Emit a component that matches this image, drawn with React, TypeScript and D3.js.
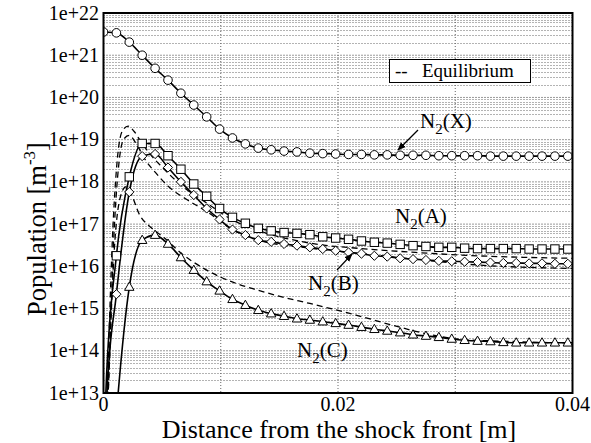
import * as d3 from 'd3';

// marker positions along the shock axis [m]; last entry is the right edge
const xGrid = [
  0, 0.0011, 0.0022, 0.0033, 0.0044, 0.0055, 0.0066, 0.0077, 0.0088, 0.0099,
  0.011, 0.0121, 0.0132, 0.0143, 0.0154, 0.0165, 0.0176, 0.0187, 0.0198, 0.0209,
  0.022, 0.0231, 0.0242, 0.0253, 0.0264, 0.0275, 0.0286, 0.0297, 0.0308, 0.0319,
  0.033, 0.0341, 0.0352, 0.0363, 0.0374, 0.0385, 0.0396, 0.04,
];

// log10 of population [m^-3]
const n2X = [
  21.55, 21.53, 21.31, 21.0, 20.69, 20.41, 20.1, 19.82, 19.54, 19.25,
  19.04, 18.9, 18.8, 18.76, 18.73, 18.71, 18.68, 18.67, 18.66, 18.65,
  18.65, 18.64, 18.64, 18.63, 18.63, 18.63, 18.62, 18.62, 18.62, 18.62,
  18.61, 18.61, 18.61, 18.61, 18.61, 18.61, 18.61, 18.61,
];
const n2A = [
  10, 16.25, 18.12, 18.91, 18.91, 18.62, 18.3, 17.95, 17.66, 17.37,
  17.16, 17.02, 16.9, 16.84, 16.8, 16.78, 16.75, 16.7, 16.67, 16.64,
  16.6, 16.57, 16.55, 16.52, 16.49, 16.47, 16.45, 16.45, 16.43, 16.42,
  16.42, 16.42, 16.42, 16.41, 16.41, 16.41, 16.41, 16.41,
];
const n2B = [
  10, 15.34, 17.76, 18.61, 18.66, 18.34, 18.0, 17.69, 17.37, 17.11,
  16.87, 16.74, 16.62, 16.58, 16.53, 16.49, 16.45, 16.41, 16.37, 16.33,
  16.3, 16.25, 16.23, 16.19, 16.17, 16.15, 16.13, 16.12, 16.11, 16.1,
  16.09, 16.08, 16.08, 16.07, 16.07, 16.06, 16.06, 16.06,
];
const n2C = [
  8, 12.5, 15.51, 16.62, 16.74, 16.53, 16.21, 15.91, 15.64, 15.42,
  15.22, 15.08, 14.96, 14.88, 14.82, 14.76, 14.73, 14.69, 14.65, 14.61,
  14.56, 14.51, 14.47, 14.43, 14.38, 14.35, 14.32, 14.28, 14.25, 14.23,
  14.22, 14.2, 14.19, 14.19, 14.19, 14.19, 14.19, 14.19,
];

// steep rise between the first markers (no marker)
const riseAX = [0.0002];
const riseA = [13.0];
const riseBX = [0.0003];
const riseB = [13.0];

// equilibrium curves (dashed)
const eqAX = [0, 0.0003, 0.0008, 0.0012, 0.0016, 0.0021, 0.0026, 0.0032, 0.004, 0.005, 0.0065, 0.0088, 0.011, 0.0132, 0.0176, 0.022, 0.0266, 0.031, 0.04];
const eqA = [11, 13.0, 16.9, 18.6, 19.2, 19.32, 19.2, 18.95, 18.65, 18.35, 17.95, 17.5, 17.1, 16.85, 16.55, 16.42, 16.33, 16.26, 16.19];
const eqBX = [0, 0.0004, 0.0009, 0.0013, 0.0017, 0.0022, 0.0028, 0.0035, 0.0045, 0.0055, 0.007, 0.0088, 0.011, 0.0132, 0.0176, 0.022, 0.0266, 0.031, 0.04];
const eqB = [11, 13.0, 16.8, 18.4, 19.0, 19.1, 18.9, 18.55, 18.2, 17.9, 17.6, 17.3, 16.87, 16.62, 16.43, 16.3, 16.17, 16.05, 15.95];
const eqCX = [0, 0.0004, 0.0009, 0.0014, 0.0019, 0.0022, 0.0031, 0.0041, 0.0052, 0.0065, 0.0088, 0.0108, 0.0131, 0.0153, 0.0176, 0.0216, 0.0242, 0.0281, 0.0309, 0.0338, 0.0396, 0.04];
const eqC = [10, 13.0, 16.3, 17.6, 17.88, 17.8, 17.21, 16.91, 16.67, 16.34, 15.91, 15.65, 15.44, 15.27, 15.12, 14.84, 14.64, 14.37, 14.26, 14.23, 14.19, 14.19];

const yTicks = [13, 14, 15, 16, 17, 18, 19, 20, 21, 22];
const xTicks = [0, 0.02, 0.04];
const xGridLines = [0.01, 0.02, 0.03];

const W = 591;
const H = 443;
const left = 103.5;
const right = 572.5;
const top = 13;
const bottom = 393;
const font = "'Liberation Serif', 'Times New Roman', serif";

const x = d3.scaleLinear().domain([0, 0.04]).range([left, right]);
const y = d3.scaleLog().domain([1e13, 1e22]).range([bottom, top]);

type Pt = [number, number];

const merge = (xs: number[], vs: number[], ex: number[] = [], ev: number[] = []): Pt[] =>
  [...xs.map((d, i) => [d, vs[i]] as Pt), ...ex.map((d, i) => [d, ev[i]] as Pt)].sort(
    (a, b) => a[0] - b[0]
  );

const line = d3
  .line<Pt>()
  .x(d => x(d[0]))
  .y(d => y(Math.pow(10, d[1])))
  .curve(d3.curveMonotoneX);

const markerPts = (vs: number[]) =>
  xGrid
    .slice(0, 37)
    .map((d, i) => ({ px: x(d), py: y(Math.pow(10, vs[i])), v: vs[i] }))
    .filter(p => p.v >= 13);

const Marker = ({ kind, px, py }: { kind: string; px: number; py: number }) => {
  const st = { fill: '#fff', stroke: '#000', strokeWidth: 1 };
  if (kind === 'circle') return <circle cx={px} cy={py} r={4.3} {...st} />;
  if (kind === 'square') return <rect x={px - 4.2} y={py - 4.2} width={8.4} height={8.4} {...st} />;
  if (kind === 'diamond')
    return <path d={`M${px},${py - 4.6}L${px + 4.6},${py}L${px},${py + 4.6}L${px - 4.6},${py}Z`} {...st} />;
  return <path d={`M${px},${py - 5}L${px + 4.7},${py + 3.3}L${px - 4.7},${py + 3.3}Z`} {...st} />;
};

const solid = [
  { name: 'X', vs: n2X, pts: merge(xGrid, n2X), kind: 'circle' },
  { name: 'A', vs: n2A, pts: merge(xGrid, n2A, riseAX, riseA), kind: 'square' },
  { name: 'B', vs: n2B, pts: merge(xGrid, n2B, riseBX, riseB), kind: 'diamond' },
  { name: 'C', vs: n2C, pts: merge(xGrid, n2C), kind: 'triangle' },
];
const dashed = [merge(eqAX, eqA), merge(eqBX, eqB), merge(eqCX, eqC)];

const minor: number[] = [];
yTicks.slice(0, -1).forEach(e => {
  for (let k = 2; k <= 9; k++) minor.push(k * Math.pow(10, e));
});

const Species = ({ px, py, s }: { px: number; py: number; s: string }) => (
  <text x={px} y={py} fontSize={21} fontFamily={font}>
    N<tspan fontSize={15} dy={6}>2</tspan>
    <tspan dy={-6}>({s})</tspan>
  </text>
);

const App = () => (
  <svg width={W} height={H} style={{ position: 'absolute', left: 0, top: 0, background: '#fff' }}>
    <defs>
      <clipPath id="plot">
        <rect x={left} y={top} width={right - left} height={bottom - top} />
      </clipPath>
      <marker id="arr" viewBox="0 0 10 10" refX={9} refY={5} markerWidth={7} markerHeight={7} orient="auto">
        <path d="M0,1L10,5L0,9Z" fill="#000" />
      </marker>
    </defs>

    {/* grid */}
    <g stroke="#666" strokeWidth={1} strokeDasharray="1,2">
      {minor.map((v, i) => (
        <line key={'m' + i} x1={left} x2={right} y1={Math.round(y(v)) + 0.5} y2={Math.round(y(v)) + 0.5} />
      ))}
      {yTicks.map(e => (
        <line key={'M' + e} x1={left} x2={right} y1={y(Math.pow(10, e))} y2={y(Math.pow(10, e))} stroke="#333" />
      ))}
      {xGridLines.map(v => (
        <line key={'v' + v} x1={x(v)} x2={x(v)} y1={top} y2={bottom} />
      ))}
    </g>

    <g clipPath="url(#plot)">
      {dashed.map((pts, i) => (
        <path key={'d' + i} d={line(pts) || ''} fill="none" stroke="#000" strokeWidth={1.3} strokeDasharray="6,4" />
      ))}
      {solid.map(s => (
        <path key={s.name} d={line(s.pts) || ''} fill="none" stroke="#000" strokeWidth={1.6} />
      ))}
      {solid.map(s =>
        markerPts(s.vs).map((p, i) => <Marker key={s.name + i} kind={s.kind} px={p.px} py={p.py} />)
      )}
    </g>

    <rect x={left} y={top} width={right - left} height={bottom - top} fill="none" stroke="#000" strokeWidth={2} />

    {/* axes labels */}
    <g fontFamily={font} fontSize={20}>
      {yTicks.map(e => (
        <text key={e} x={99} y={y(Math.pow(10, e)) + 6.5} textAnchor="end">
          {`1e+${e}`}
        </text>
      ))}
      {xTicks.map(v => (
        <text key={v} x={x(v)} y={410.5} textAnchor="middle">
          {String(v)}
        </text>
      ))}
    </g>
    <text x={339} y={438} fontSize={26} fontFamily={font} textAnchor="middle">
      Distance from the shock front [m]
    </text>
    <text transform="translate(46,229) rotate(-90)" fontSize={26.5} fontFamily={font} textAnchor="middle">
      Population [m<tspan fontSize={17} dy={-11}>-3</tspan>
      <tspan dy={11}>]</tspan>
    </text>

    {/* legend */}
    <rect x={389.5} y={59.5} width={141} height={23} fill="#fff" stroke="#000" strokeWidth={1} />
    <text x={395} y={77} fontSize={19} fontFamily={font}>--</text>
    <text x={422} y={77} fontSize={19} fontFamily={font}>Equilibrium</text>

    {/* species labels */}
    <Species px={420} py={128} s="X" />
    <line x1={418} y1={130} x2={398} y2={150} stroke="#000" strokeWidth={1.2} markerEnd="url(#arr)" />
    <Species px={395} py={223} s="A" />
    <Species px={308} py={290} s="B" />
    <line x1={337} y1={270} x2={352} y2={254} stroke="#000" strokeWidth={1.2} markerEnd="url(#arr)" />
    <Species px={297} py={357} s="C" />
  </svg>
);

export default App;
